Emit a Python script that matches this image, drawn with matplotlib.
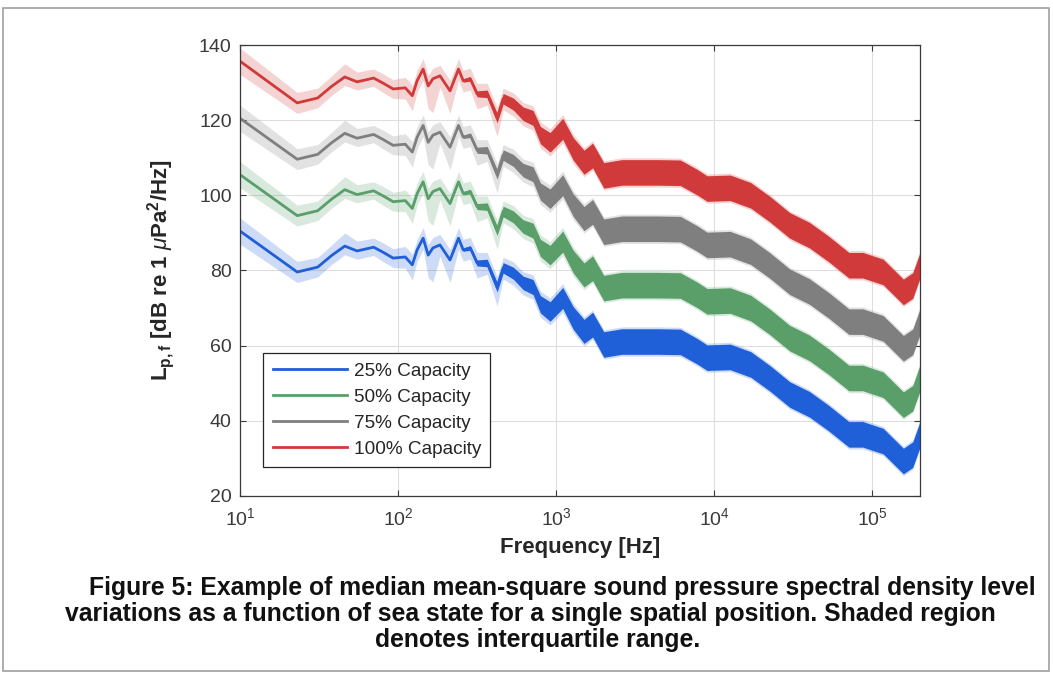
import numpy as np
import matplotlib.pyplot as plt
from matplotlib.patches import Rectangle
from matplotlib.ticker import NullLocator

plt.rcParams['font.family'] = ['Liberation Sans', 'DejaVu Sans']
plt.rcParams['mathtext.fontset'] = 'custom'
plt.rcParams['mathtext.rm'] = 'Liberation Sans'
plt.rcParams['mathtext.it'] = 'Liberation Sans:italic'
plt.rcParams['mathtext.bf'] = 'Liberation Sans:bold'

#
# VALUES
#

freq = [10, 23, 31, 38, 46, 55, 70, 80, 93, 111, 123, 132, 144, 155, 166, 184, 213, 241, 258, 286,
        316, 366, 423, 462, 535, 618, 714, 795, 915, 1100, 1280, 1500, 1700,
        2000, 2600, 4400, 6100, 7800, 9000, 12600, 17000, 22500, 30000, 40000, 53000, 71000,
        87000, 117000, 157000, 180000, 200000]

cap25 = [90.5, 79.6, 80.9, 84.0, 86.5, 85.2, 86.2, 84.9, 83.3, 83.6, 81.5, 85.5, 88.6, 84.1, 86.0,
         86.8, 82.8, 88.6, 85.5, 86.0, 82.0, 82.0, 75.6, 80.7, 79.3, 76.7, 75.6, 71.0, 69.1, 72.7,
         67.4, 63.8, 65.6, 60.3, 61.1, 61.1, 61.0, 58.5, 56.8, 57.0, 55.0, 51.3, 47.0, 44.4, 40.7,
         36.4, 36.4, 34.6, 29.3, 31.0, 36.4]
cap50 = [105.5, 94.6, 95.9, 99.0, 101.5, 100.2, 101.2, 99.9, 98.3, 98.6, 96.5, 100.5, 103.6, 99.1,
         101.0, 101.8, 97.8, 103.6, 100.5, 101.0, 97.0, 97.0, 90.6, 95.7, 94.3, 91.7, 90.6, 86.0,
         84.1, 87.7, 82.4, 78.8, 80.6, 75.3, 76.1, 76.1, 76.0, 73.5, 71.8, 72.0, 70.0, 66.3, 62.0,
         59.4, 55.7, 51.4, 51.4, 49.6, 44.3, 46.0, 51.4]
cap75 = [120.5, 109.6, 110.9, 114.0, 116.5, 115.2, 116.2, 114.9, 113.3, 113.6, 111.5, 115.5, 118.6,
         114.1, 116.0, 116.8, 112.8, 118.6, 115.5, 116.0, 112.0, 112.0, 105.6, 110.7, 109.3, 106.7,
         105.6, 101.0, 99.1, 102.7, 97.4, 93.8, 95.6, 90.3, 91.1, 91.1, 91.0, 88.5, 86.8, 87.0, 85.0,
         81.3, 77.0, 74.4, 70.7, 66.4, 66.4, 64.6, 59.3, 61.0, 66.4]
cap100 = [135.7, 124.6, 125.9, 129.0, 131.5, 130.2, 131.2, 129.9, 128.3, 128.6, 126.5, 130.5, 133.6,
          129.1, 131.0, 131.8, 127.8, 133.6, 130.5, 131.0, 127.0, 127.0, 120.6, 125.7, 124.3, 121.7,
          120.6, 116.0, 114.1, 117.7, 112.4, 108.8, 110.6, 105.3, 106.1, 106.1, 106.0, 103.5, 101.8,
          102.0, 100.0, 96.3, 92.0, 89.4, 85.7, 81.4, 81.4, 79.6, 74.3, 76.0, 81.4]

# visual thickness of the fast fluctuation of the median (half width, dB)
noise_half = [0, 0, 0, 0, 0, 0, 0, 0, 0, 0, 0, 0, 0, 0, 0, 0, 0, 0.3, 0.4, 0.6,
              0.8, 1.0, 1.3, 1.4, 1.6, 1.8, 2.0, 2.3, 2.6, 2.8, 3.0, 3.2, 3.3,
              3.4, 3.4, 3.4, 3.4, 3.4, 3.4, 3.4, 3.4, 3.4, 3.4, 3.4, 3.4, 3.4,
              3.4, 3.4, 3.4, 3.4, 3.4]

# interquartile range around the median (dB below / above)
iqr_lo = [3.5, 2.8, 2.6, 2.4, 2.3, 2.2, 2.2, 2.5, 2.5, 3.0, 4.0, 3.0, 3.0, 6.0, 9.0, 3.0, 6.0, 3.0,
          3.0, 3.0, 4.0, 3.0, 5.0, 3.0, 3.2, 3.2, 3.3, 3.5, 3.6, 3.8, 3.9, 3.9, 3.9,
          3.9, 3.9, 3.9, 3.9, 3.9, 3.9, 3.9, 3.9, 3.9, 3.9, 3.9, 3.9, 3.9, 3.9, 3.9, 3.9, 3.9, 3.9]
iqr_hi = [3.5, 2.8, 2.6, 2.8, 3.5, 2.6, 2.4, 2.5, 2.5, 2.8, 2.8, 2.8, 2.8, 2.8, 2.8, 2.8, 2.8, 2.8,
          2.8, 2.8, 2.8, 2.8, 2.8, 2.8, 3.0, 3.0, 3.2, 3.5, 3.6, 3.8, 3.9, 3.9, 3.9,
          3.9, 3.9, 3.9, 3.9, 3.9, 3.9, 3.9, 3.9, 3.9, 3.9, 3.9, 3.9, 3.9, 3.9, 3.9, 3.9, 3.9, 3.9]

labels = ["25% Capacity", "50% Capacity", "75% Capacity", "100% Capacity"]
colors = ["#1f5fd8", "#5a9e6a", "#7f7f7f", "#d13a3a"]

caption = ["Figure 5: Example of median mean-square sound pressure spectral density level",
           "variations as a function of sea state for a single spatial position. Shaded region",
           "denotes interquartile range."]
caption_x = [562, 530, 538]

#
# PLOT
#

fig = plt.figure(figsize=(10.53, 6.79), dpi=100)
ax = fig.add_axes([240 / 1053, 1 - 496 / 679, 680 / 1053, 451 / 679])

f = np.array(freq)
lo = np.array(iqr_lo)
hi = np.array(iqr_hi)
nz = np.array(noise_half)

for series, col, lab in zip([cap25, cap50, cap75, cap100], colors, labels):
    y = np.array(series)
    ax.fill_between(f, y - lo, y + hi, color=col, alpha=0.22, lw=0)
    ax.fill_between(f, y - nz, y + nz, color=col, lw=0)
    ax.plot(f, y, color=col, lw=2.0, label=lab)

ax.set_xscale('log')
ax.set_xlim(10, 2e5)
ax.set_ylim(20, 140)
ax.set_xticks([1e1, 1e2, 1e3, 1e4, 1e5])
ax.set_yticks(range(20, 141, 20))
ax.xaxis.set_minor_locator(NullLocator())

ax.grid(True, color='#dedede', lw=0.8)
ax.set_axisbelow(True)
ax.tick_params(direction='in', top=True, right=True, length=4, width=0.8,
               colors='#3a3a3a', labelsize=14)
ax.tick_params(axis='x', pad=8)
ax.tick_params(axis='y', pad=6)
for sp in ax.spines.values():
    sp.set_color('#3a3a3a')
    sp.set_linewidth(0.9)

ax.set_xlabel("Frequency [Hz]", fontsize=16, fontweight='bold', color='#262626')
ax.set_ylabel(r"$\mathbf{L_{p,f}}$ [dB re 1 $\mu$Pa$^\mathbf{2}$/Hz]", fontsize=16,
              fontweight='bold', color='#262626')
ax.xaxis.set_label_coords(0.5, -0.09)
ax.yaxis.set_label_coords(-0.092, 0.5)

leg = ax.legend(loc='lower left', bbox_to_anchor=(0.034, 0.064), borderaxespad=0,
                fontsize=13.7, handlelength=3.9, fancybox=False, framealpha=1,
                edgecolor='#262626', labelspacing=0.45, borderpad=0.5, handletextpad=0.35)
leg.get_frame().set_linewidth(0.9)
for txt in leg.get_texts():
    txt.set_color('#262626')

for i, line in enumerate(caption):
    fig.text(caption_x[i] / 1053, 1 - (588 + 26 * i) / 679, line, ha='center', va='center',
             fontsize=17.8, fontweight='bold', color='#111111')

fig.patches.append(Rectangle((3 / 1053, 1 - 671 / 679), 1046 / 1053, 663 / 679,
                             transform=fig.transFigure, fill=False,
                             edgecolor='#a0a0a0', lw=1.2))

fig.savefig("out.png", dpi=100)
